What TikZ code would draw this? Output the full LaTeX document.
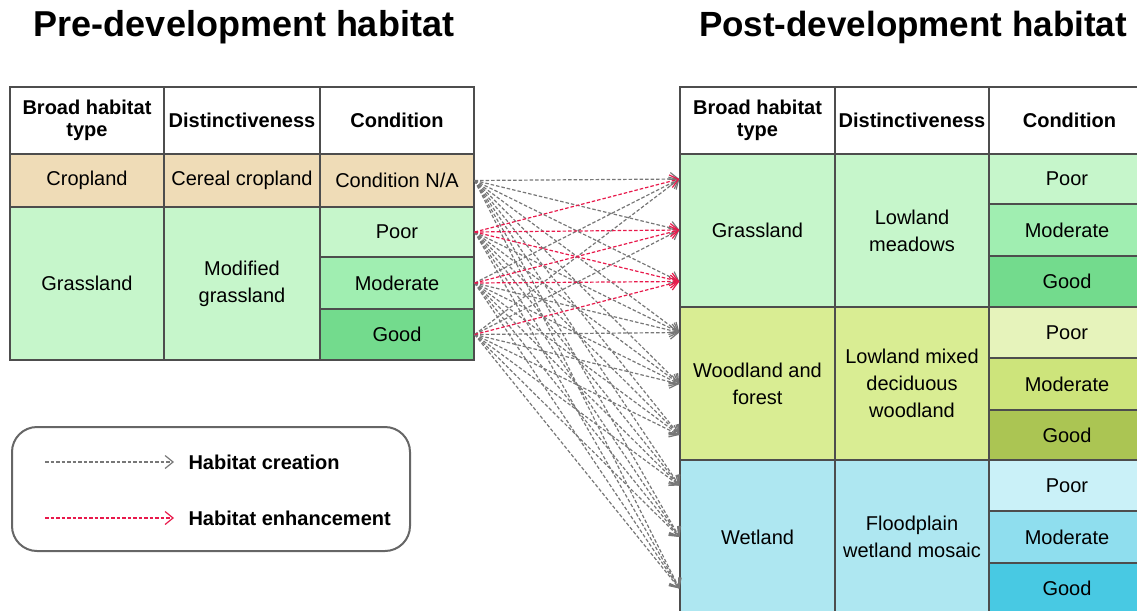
\documentclass[tikz,border=0pt]{standalone}
\usepackage{fontspec}
\setmainfont{Liberation Sans}
\usetikzlibrary{arrows.meta}
\definecolor{bordercol}{HTML}{4D4D4D}
\definecolor{cropcol}{HTML}{EFDCB7}
\definecolor{grasscol}{HTML}{C6F6CB}
\definecolor{grassmod}{HTML}{A0EEB1}
\definecolor{grassgood}{HTML}{73DB8D}
\definecolor{woodcol}{HTML}{D9ED93}
\definecolor{woodpoor}{HTML}{E6F3BB}
\definecolor{woodmod}{HTML}{CDE47B}
\definecolor{woodgood}{HTML}{ABC553}
\definecolor{wetcol}{HTML}{AEE7F1}
\definecolor{wetpoor}{HTML}{CAF1F8}
\definecolor{wetmod}{HTML}{8FDEEE}
\definecolor{wetgood}{HTML}{48C9E3}
\definecolor{arrgray}{HTML}{777777}
\definecolor{arrred}{HTML}{E8194B}
\definecolor{legendcol}{HTML}{666666}
\tikzset{
  cell/.style={draw=bordercol, line width=1.3pt, inner sep=0pt, align=center,
    font=\fontsize{20}{27}\selectfont},
  hdrcell/.style={cell, fill=white, font=\bfseries\fontsize{20}{22}\selectfont},
  titletext/.style={font=\bfseries\fontsize{36}{40}\selectfont, anchor=base},
  creation/.style={draw=arrgray, dash pattern=on 3.5pt off 2pt, line width=1.2pt,
    -{Straight Barb[length=8pt,width=13pt]}},
  enhance/.style={creation, draw=arrred},
  legendbox/.style={draw=legendcol, line width=2pt, rounded corners=25pt},
  legendtext/.style={font=\bfseries\fontsize{20}{22}\selectfont, anchor=west}
}
% #1 name, #2 x1, #3 y1, #4 x2, #5 y2, #6 style, #7 text
\newcommand\mycell[7]{%
  \node[#6, minimum width={(#4-#2)*1pt}, minimum height={(#5-#3)*1pt}]
    (#1) at ({(#2+#4)/2},{(#3+#5)/2}) {#7};}
\begin{document}
\begin{tikzpicture}[x=1pt,y=-1pt]
\useasboundingbox (0,0) rectangle (1137,610);
\begin{scope}
\clip (0,0) rectangle (1137,610);
% titles
\node[titletext] (t1) at (244,37) {Pre-development habitat};
\node[titletext, font=\bfseries\fontsize{35}{40}\selectfont] (t2) at (913,37) {Post-development habitat};
% left table
\mycell{lh1}{10}{87}{164}{154}{hdrcell}{Broad habitat\\type}
\mycell{lh2}{164}{87}{320}{154}{hdrcell}{Distinctiveness}
\mycell{lh3}{320}{87}{474}{154}{hdrcell}{Condition}
\mycell{lcb}{10}{154}{164}{207}{cell,fill=cropcol}{Cropland}
\mycell{lcd}{164}{154}{320}{207}{cell,fill=cropcol}{Cereal cropland}
\mycell{LC}{320}{154}{474}{207}{cell,fill=cropcol}{Condition N/A}
\mycell{lgb}{10}{207}{164}{360}{cell,fill=grasscol}{Grassland}
\mycell{lgd}{164}{207}{320}{360}{cell,fill=grasscol}{Modified\\grassland}
\mycell{LP}{320}{207}{474}{257}{cell,fill=grasscol}{Poor}
\mycell{LM}{320}{257}{474}{309}{cell,fill=grassmod}{Moderate}
\mycell{LG}{320}{309}{474}{360}{cell,fill=grassgood}{Good}
% right table
\mycell{rh1}{680}{87}{835}{154}{hdrcell}{Broad habitat\\type}
\mycell{rh2}{835}{87}{989}{154}{hdrcell}{Distinctiveness}
\mycell{rh3}{989}{87}{1150}{154}{hdrcell}{Condition}
\mycell{rgb}{680}{154}{835}{307}{cell,fill=grasscol}{Grassland}
\mycell{rgd}{835}{154}{989}{307}{cell,fill=grasscol}{Lowland\\meadows}
\mycell{RGP}{989}{154}{1145}{204}{cell,fill=grasscol}{Poor}
\mycell{RGM}{989}{204}{1145}{256}{cell,fill=grassmod}{Moderate}
\mycell{RGG}{989}{256}{1145}{307}{cell,fill=grassgood}{Good}
\mycell{rwb}{680}{307}{835}{460}{cell,fill=woodcol}{Woodland and\\forest}
\mycell{rwd}{835}{307}{989}{460}{cell,fill=woodcol}{Lowland mixed\\deciduous\\woodland}
\mycell{RWP}{989}{307}{1145}{358}{cell,fill=woodpoor}{Poor}
\mycell{RWM}{989}{358}{1145}{410}{cell,fill=woodmod}{Moderate}
\mycell{RWG}{989}{410}{1145}{460}{cell,fill=woodgood}{Good}
\mycell{rtb}{680}{460}{835}{614}{cell,fill=wetcol}{Wetland}
\mycell{rtd}{835}{460}{989}{614}{cell,fill=wetcol}{Floodplain\\wetland mosaic}
\mycell{RTP}{989}{460}{1145}{511}{cell,fill=wetpoor}{Poor}
\mycell{RTM}{989}{511}{1145}{563}{cell,fill=wetmod}{Moderate}
\mycell{RTG}{989}{563}{1145}{614}{cell,fill=wetgood}{Good}
% arrow end points on the left edge of the right table
\foreach \t/\b in {RGP/rgb,RGM/rgb,RGG/rgb,RWP/rwb,RWM/rwb,RWG/rwb,RTP/rtb,RTM/rtb,RTG/rtb}
  \coordinate (e\t) at (\t.center -| \b.west);
% creation arrows
\foreach \t in {RGP,RGM,RGG,RWP,RWM,RWG,RTP,RTM,RTG}
  \draw[creation] (LC.east) -- (e\t);
\foreach \t in {RWP,RWM,RWG,RTP,RTM,RTG}
  \draw[creation] (LP.east) -- (e\t);
\foreach \t in {RGP,RWP,RWM,RWG,RTP,RTM,RTG}
  \draw[creation] (LM.east) -- (e\t);
\foreach \t in {RGP,RGM,RWP,RWM,RWG,RTP,RTM,RTG}
  \draw[creation] (LG.east) -- (e\t);
% enhancement arrows
\foreach \t in {RGP,RGM,RGG}
  \draw[enhance] (LP.east) -- (e\t);
\foreach \t in {RGM,RGG}
  \draw[enhance] (LM.east) -- (e\t);
\draw[enhance] (LG.east) -- (eRGG);
% legend
\draw[legendbox] (12,427) rectangle (410,551);
\coordinate (la1) at (45,462);
\node[legendtext] (lt1) at (185,462) {Habitat creation};
\coordinate (la2) at (45,518);
\node[legendtext] (lt2) at (185,518) {Habitat enhancement};
\draw[creation] (la1) -- ([xshift=-11pt]lt1.west);
\draw[enhance] (la2) -- ([xshift=-11pt]lt2.west);
\end{scope}
\end{tikzpicture}
\end{document}
